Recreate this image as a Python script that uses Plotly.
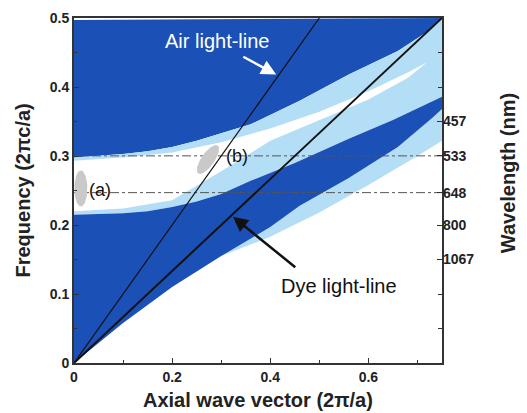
import numpy as np
import plotly.graph_objects as go

# ---- data ----
# upper dark region: lower boundary (k, omega)
upper_k = [0.0, 0.1, 0.15, 0.2, 0.25, 0.3, 0.36, 0.46, 0.56, 0.66, 0.72, 0.75]
upper_w = [0.298, 0.303, 0.307, 0.313, 0.322, 0.333, 0.346, 0.38, 0.418, 0.452, 0.48, 0.5]
# lower dark band: upper edge
band_top_k = [0.0, 0.1, 0.15, 0.2, 0.25, 0.3, 0.36, 0.45, 0.56, 0.65, 0.75]
band_top_w = [0.215, 0.217, 0.22, 0.226, 0.234, 0.245, 0.264, 0.29, 0.325, 0.352, 0.386]
# lower dark band: lower edge
band_bot_k = [0.0, 0.1, 0.2, 0.3, 0.4, 0.46, 0.56, 0.66, 0.73, 0.75]
band_bot_w = [0.0, 0.058, 0.11, 0.155, 0.197, 0.228, 0.268, 0.313, 0.355, 0.368]
# white core inside the light band
core_up_k = [0.0, 0.1, 0.2, 0.3, 0.4, 0.5, 0.6, 0.68, 0.72]
core_up_w = [0.293, 0.298, 0.305, 0.32, 0.34, 0.364, 0.394, 0.421, 0.436]
core_lo_k = [0.68, 0.6, 0.5, 0.4, 0.3, 0.2, 0.1, 0.0]
core_lo_w = [0.413, 0.382, 0.352, 0.322, 0.278, 0.236, 0.224, 0.22]
# light fringe below the lower dark band
fringe_k = [0.3, 0.4, 0.5, 0.6, 0.7, 0.75]
fringe_w = [0.155, 0.183, 0.218, 0.258, 0.3, 0.322]

air_k = [0.0, 0.5]
air_w = [0.0, 0.5]
dye_k = [0.0, 0.75]
dye_w = [0.0, 0.5]

freq_ticks = [0, 0.1, 0.2, 0.3, 0.4, 0.5]
freq_labels = ["0", "0.1", "0.2", "0.3", "0.4", "0.5"]
k_ticks = [0, 0.2, 0.4, 0.6]
k_labels = ["0", "0.2", "0.4", "0.6"]
wl_nm = [457, 533, 648, 800, 1067]
lattice_a = 160.0  # nm
wl_pos = [lattice_a / w for w in wl_nm]
wl_labels = [str(w) for w in wl_nm]
dashed_levels = [lattice_a / 533, lattice_a / 648]

DARK = "#1b50b6"
LIGHT = "#b4ddf6"
GRAY = "#c9c9c9"

fig = go.Figure()

def poly(xs, ys, color):
    fig.add_trace(go.Scatter(x=xs, y=ys, fill="toself", fillcolor=color,
                             mode="lines", line=dict(width=0, color=color),
                             hoverinfo="skip", showlegend=False))

# upper dark region
poly([0.0, 0.75] + upper_k[::-1], [0.497, 0.5] + upper_w[::-1], DARK)
# light band
poly(upper_k + band_top_k[::-1], upper_w + band_top_w[::-1], LIGHT)
# white core
poly(core_up_k + core_lo_k, core_up_w + core_lo_w, "white")
# fringe under lower band
fr_edge_k = [k for k in band_bot_k if k >= 0.3]
fr_edge_w = [w for k, w in zip(band_bot_k, band_bot_w) if k >= 0.3]
poly(fringe_k + fr_edge_k[::-1], fringe_w + fr_edge_w[::-1], LIGHT)
# lower dark region
poly(band_top_k + band_bot_k[::-1], band_top_w + band_bot_w[::-1], DARK)

# dashed horizontal reference lines
for lv in dashed_levels:
    fig.add_trace(go.Scatter(x=[0, 0.75], y=[lv, lv], mode="lines",
                             line=dict(color="#555555", width=1, dash="dashdot"),
                             hoverinfo="skip", showlegend=False))

# light lines
fig.add_trace(go.Scatter(x=air_k, y=air_w, mode="lines",
                         line=dict(color="#111111", width=1.2),
                         hoverinfo="skip", showlegend=False))
fig.add_trace(go.Scatter(x=dye_k, y=dye_w, mode="lines",
                         line=dict(color="#111111", width=2),
                         hoverinfo="skip", showlegend=False))

# gray ellipses (marker spots), built in pixel units
PX_X = 368.0 / 0.75
PX_Y = 344.0 / 0.5
def ellipse(kc, wc, a_px, b_px, ang_deg):
    t = np.linspace(0, 2 * np.pi, 60)
    ang = np.deg2rad(ang_deg)
    xp = a_px * np.cos(t) * np.cos(ang) - b_px * np.sin(t) * np.sin(ang)
    yp = a_px * np.cos(t) * np.sin(ang) + b_px * np.sin(t) * np.cos(ang)
    poly(list(kc + xp / PX_X), list(wc + yp / PX_Y), GRAY)

ellipse(0.014, 0.253, 18, 6.5, 90)
ellipse(0.273, 0.295, 17, 6.5, 55)

tickfont = dict(family="Liberation Sans", size=14, color="#222222")
fig.update_layout(
    width=527, height=413,
    margin=dict(l=74, r=85, t=18, b=50, autoexpand=False),
    paper_bgcolor="white", plot_bgcolor="white",
    xaxis=dict(range=[0, 0.75], tickvals=k_ticks, ticktext=["<b>%s</b>" % s for s in k_labels],
               ticks="inside", ticklen=5, tickcolor="#333", showgrid=False, zeroline=False,
               showline=True, linecolor="#333", linewidth=2, mirror=True, tickfont=tickfont,
               minor=dict(dtick=0.1, ticks="inside", ticklen=3, tickcolor="#333")),
    yaxis=dict(range=[0, 0.5], tickvals=freq_ticks, ticktext=["<b>%s</b>" % s for s in freq_labels],
               ticks="inside", ticklen=5, tickcolor="#333", showgrid=False, zeroline=False,
               showline=True, linecolor="#333", linewidth=2, mirror=True, tickfont=tickfont,
               minor=dict(dtick=0.05, ticks="inside", ticklen=3, tickcolor="#333")),
    yaxis2=dict(range=[0, 0.5], overlaying="y", side="right", tickvals=wl_pos,
                ticktext=["<b>%s</b>" % s for s in wl_labels], ticks="inside", ticklen=5,
                tickcolor="#333", showgrid=False, zeroline=False, showline=False,
                tickfont=tickfont,
                minor=dict(tickvals=[0.05, 0.1, 0.4, 0.45], ticks="inside", ticklen=4,
                           tickcolor="#333")),
    font=dict(family="Liberation Sans"),
)
# invisible trace to activate y2
fig.add_trace(go.Scatter(x=[0], y=[0], yaxis="y2", mode="markers",
                         marker=dict(opacity=0), hoverinfo="skip", showlegend=False))

ann = []
titlefont = dict(family="Liberation Sans", size=20, color="#222222")
ann.append(dict(text="<b>Frequency (2πc/a)</b>", xref="paper", yref="paper", x=0, y=0.5,
                xshift=-52, textangle=-90, showarrow=False, font=titlefont,
                xanchor="center", yanchor="middle"))
ann.append(dict(text="<b>Axial wave vector (2π/a)</b>", xref="paper", yref="paper", x=0.5, y=0,
                yshift=-37, showarrow=False, font=titlefont, xanchor="center", yanchor="middle"))
ann.append(dict(text="<b>Wavelength (nm)</b>", xref="paper", yref="paper", x=1, y=0.55,
                xshift=66, textangle=-90, showarrow=False, font=titlefont,
                xanchor="center", yanchor="middle"))
# labels
ann.append(dict(text="Air light-line", x=0.292, y=0.467, showarrow=False,
                font=dict(family="Liberation Sans", size=20, color="white")))
ann.append(dict(text="Dye light-line", x=0.54, y=0.112, showarrow=False,
                font=dict(family="Liberation Sans", size=20, color="#111111")))
ann.append(dict(text="(a)", x=0.053, y=0.251, showarrow=False,
                font=dict(family="Liberation Sans", size=18, color="#111111")))
ann.append(dict(text="(b)", x=0.332, y=0.3, showarrow=False,
                font=dict(family="Liberation Sans", size=18, color="#111111")))
# arrows
ann.append(dict(text="", x=0.412, y=0.418, ax=0.342, ay=0.445, xref="x", yref="y",
                axref="x", ayref="y", showarrow=True, arrowhead=2, arrowsize=1.2,
                arrowwidth=2.5, arrowcolor="white"))
ann.append(dict(text="", x=0.324, y=0.212, ax=0.454, ay=0.137, xref="x", yref="y",
                axref="x", ayref="y", showarrow=True, arrowhead=2, arrowsize=1.2,
                arrowwidth=2.5, arrowcolor="#111111"))
fig.update_layout(annotations=ann)

fig.write_html("out.html", config={"displayModeBar": False},
               post_script="document.body.style.margin='0';document.body.style.overflow='hidden';")
